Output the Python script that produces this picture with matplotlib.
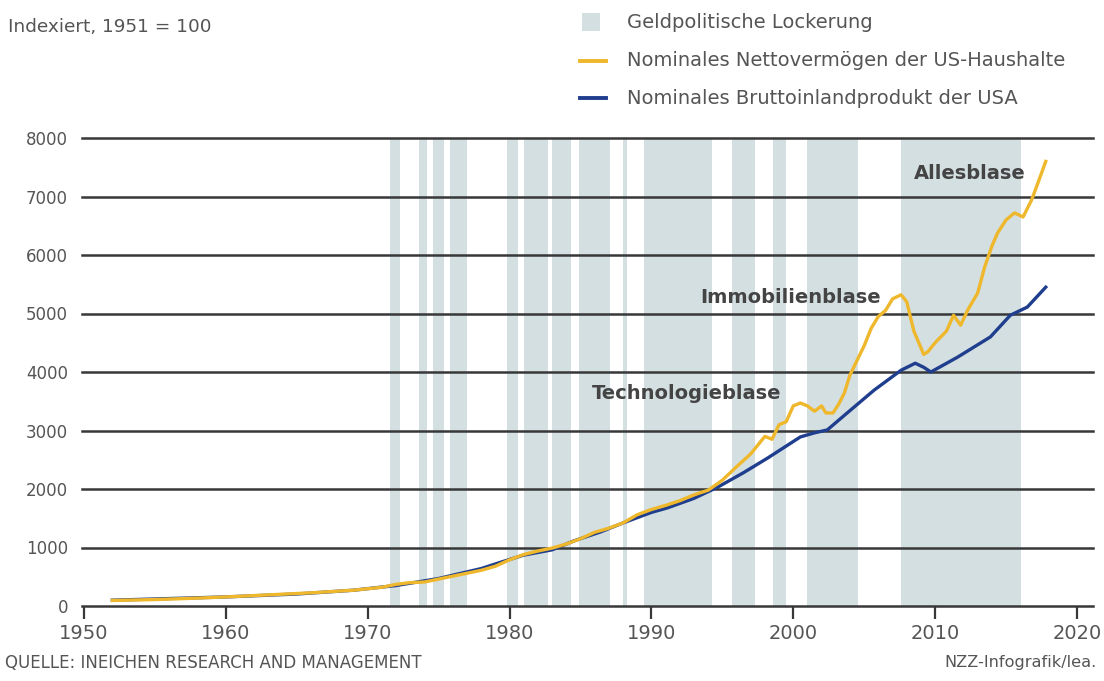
import numpy as np
import matplotlib
matplotlib.use("Agg")
import matplotlib.pyplot as plt
from matplotlib.patches import Rectangle
from matplotlib.lines import Line2D

# periods of monetary easing (start, end)
easing = [(1971.6, 1972.3), (1973.6, 1974.2), (1974.6, 1975.4), (1975.8, 1977.0),
          (1979.85, 1980.6), (1981.0, 1982.7), (1983.0, 1984.3), (1984.9, 1987.05),
          (1988.0, 1988.3), (1989.45, 1994.3), (1995.7, 1997.3), (1998.6, 1999.5),
          (2001.0, 2004.55), (2007.6, 2016.05)]

# nominal net worth of US households (index 1951 = 100)
nw_years = [1952, 1955, 1958, 1960, 1963, 1966, 1969, 1971, 1972, 1973, 1974, 1975,
            1976, 1977, 1978, 1979, 1980, 1981, 1982, 1983, 1984, 1985, 1986, 1987,
            1988, 1989, 1990, 1991, 1992, 1993, 1994, 1995, 1996, 1997, 1998, 1998.5,
            1999, 1999.5, 2000, 2000.5, 2001, 2001.5, 2002, 2002.3, 2002.8, 2003.2,
            2003.6, 2004, 2004.5, 2005, 2005.5, 2006, 2006.5, 2007, 2007.6, 2008,
            2008.5, 2009.2, 2009.5, 2010, 2010.4, 2010.8, 2011.3, 2011.8, 2012.3,
            2013, 2013.5, 2014, 2014.4, 2015, 2015.6, 2016.2, 2016.8, 2017.2, 2017.8]
nw_vals = [95, 110, 135, 155, 190, 225, 270, 320, 370, 400, 410, 460,
           510, 560, 610, 680, 790, 880, 940, 990, 1060, 1150, 1260, 1330,
           1420, 1560, 1650, 1720, 1800, 1900, 1980, 2150, 2380, 2600, 2900, 2850,
           3100, 3150, 3420, 3470, 3420, 3330, 3420, 3300, 3300, 3450,
           3640, 3950, 4200, 4450, 4750, 4950, 5050, 5250, 5320, 5200,
           4700, 4300, 4350, 4500, 4600, 4700, 4970, 4800, 5060,
           5350, 5800, 6150, 6375, 6600, 6720, 6650, 6940, 7200, 7600]

# nominal GDP of the USA
gdp_years = [1952, 1955, 1960, 1965, 1969, 1972, 1975, 1978, 1979.4, 1981, 1983,
             1984.5, 1986.4, 1988, 1990, 1991.1, 1993, 1994.7, 1996.5, 1998.2,
             2000.5, 2001.5, 2002.4, 2003.8, 2005.7, 2007.6, 2008.6, 2009.2,
             2009.7, 2011.6, 2013.9, 2015.3, 2016.5, 2017.8]
gdp_vals = [100, 120, 155, 205, 270, 350, 470, 640, 750, 870, 960,
            1110, 1265, 1420, 1600, 1675, 1840, 2035, 2280, 2530,
            2890, 2960, 3010, 3300, 3690, 4030, 4150, 4080,
            4000, 4256, 4600, 4970, 5110, 5450]

yticks = [0, 1000, 2000, 3000, 4000, 5000, 6000, 7000, 8000]
xticks = [1950, 1960, 1970, 1980, 1990, 2000, 2010, 2020]

band_c = "#d4dfe1"
gold = "#efb82c"
navy = "#1f3e8e"
grid_c = "#383838"
txt_c = "#555555"

fig = plt.figure(figsize=(11.04, 6.81), dpi=100)
ax = fig.add_axes([82/1104, 75/681, 1011/1104, 468/681])
ax.set_xlim(1949.86, 2021.13)
ax.set_ylim(0, 8000)

for s, e in easing:
    ax.axvspan(s, e, ymin=0, ymax=1, color=band_c, lw=0, zorder=1)

for y in yticks[1:]:
    ax.axhline(y, color=grid_c, lw=1.8, zorder=2, clip_on=False)

ax.plot(gdp_years, gdp_vals, color=navy, lw=2.4, zorder=4)
ax.plot(nw_years, nw_vals, color=gold, lw=2.4, zorder=5)

for sp in ["top", "right", "left"]:
    ax.spines[sp].set_visible(False)
ax.spines["bottom"].set_color(grid_c)
ax.spines["bottom"].set_linewidth(1.8)
ax.spines["bottom"].set_zorder(6)

ax.set_xticks(xticks)
ax.set_xticklabels([str(x) for x in xticks])
ax.set_yticks(yticks)
ax.set_yticklabels([str(y) for y in yticks])
ax.tick_params(axis="x", direction="out", length=9, width=1.6, color=grid_c,
               labelsize=14, labelcolor=txt_c, pad=4)
ax.tick_params(axis="y", length=0, labelsize=12, labelcolor=txt_c, pad=10)

ax.text(2012.45, 7400, "Allesblase", ha="center", va="center", fontsize=14,
        fontweight="bold", color="#444444", zorder=7)
ax.text(1999.8, 5280, "Immobilienblase", ha="center", va="center", fontsize=14,
        fontweight="bold", color="#444444", zorder=7)
ax.text(1992.45, 3640, "Technologieblase", ha="center", va="center", fontsize=14,
        fontweight="bold", color="#444444", zorder=7)

# header and legend
fig.text(8/1104, 1 - 27/681, "Indexiert, 1951 = 100", ha="left", va="center",
         fontsize=13.3, color=txt_c)
fig.patches.append(Rectangle((582/1104, 1 - 31/681), 18/1104, 18/681,
                             transform=fig.transFigure, color=band_c, lw=0))
fig.lines.append(Line2D([580/1104, 606/1104], [1 - 61/681, 1 - 61/681],
                        transform=fig.transFigure, color=gold, lw=2.8))
fig.lines.append(Line2D([580/1104, 606/1104], [1 - 98/681, 1 - 98/681],
                        transform=fig.transFigure, color=navy, lw=2.8))
leg_labels = ["Geldpolitische Lockerung",
              "Nominales Nettovermögen der US-Haushalte",
              "Nominales Bruttoinlandprodukt der USA"]
for yy, lab in zip([22, 61, 98], leg_labels):
    fig.text(627/1104, 1 - yy/681, lab, ha="left", va="center", fontsize=14,
             color=txt_c)

# footer
fig.text(5/1104, 1 - 663/681, "QUELLE: INEICHEN RESEARCH AND MANAGEMENT",
         ha="left", va="center", fontsize=12, color=txt_c)
fig.text(1097/1104, 1 - 663/681, "NZZ-Infografik/lea.", ha="right", va="center",
         fontsize=11.6, color=txt_c)

fig.savefig("out.png", dpi=100)
